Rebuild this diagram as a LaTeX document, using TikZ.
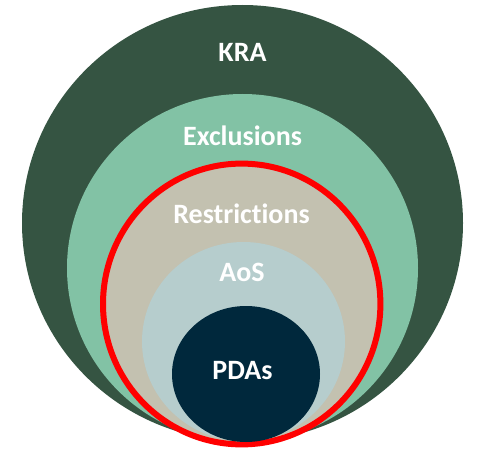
\documentclass[tikz,border=0pt]{standalone}
\usepackage{fontspec}
\setmainfont[Ligatures={NoCommon,NoRare,NoDiscretionary}]{Carlito}
\definecolor{kra}{RGB}{53,84,66}
\definecolor{excl}{RGB}{130,194,165}
\definecolor{restr}{RGB}{195,193,176}
\definecolor{aos}{RGB}{182,205,205}
\definecolor{pdas}{RGB}{0,40,60}
\definecolor{redline}{RGB}{255,0,0}
\begin{document}
\begin{tikzpicture}[x=1pt,y=-1pt,
  lbl/.style={text=white,font=\fontsize{28}{31}\selectfont\bfseries,anchor=base,inner sep=0pt}]
\useasboundingbox (0,0) rectangle (479,449);
\fill[kra] (242.5,223) ellipse [x radius=220.5,y radius=218];
\fill[excl] (242.5,268) ellipse [x radius=175.5,y radius=174];
\filldraw[fill=restr,draw=redline,line width=6pt] (241.7,304) ellipse [x radius=138.7,y radius=140.4];
\fill[aos] (243.5,341.5) ellipse [x radius=101.5,y radius=99.5];
\fill[pdas] (246,374) ellipse [x radius=74,y radius=68];
\node[lbl] (kra) at (242.5,62) {KRA};
\node[lbl] (excl) at (242.5,146) {Exclusions};
\node[lbl] (restr) at (241.5,223) {Restrictions};
\node[lbl] (aos) at (242,281) {AoS};
\node[lbl] (pdas) at (242.5,379) {PDAs};
\end{tikzpicture}
\end{document}
